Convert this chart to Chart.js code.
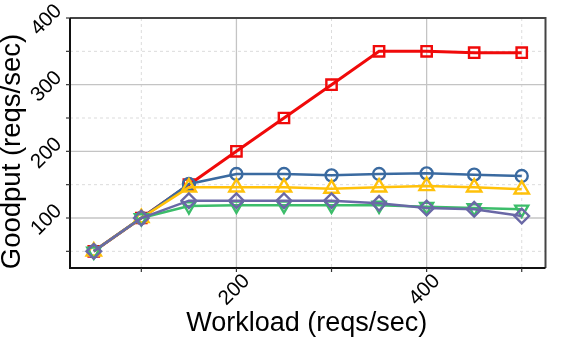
<!DOCTYPE html>
<html><head><meta charset="utf-8">
<script src="https://cdn.jsdelivr.net/npm/chart.js@4"></script>
<style>html,body{margin:0;padding:0;background:#fff}canvas{display:block}</style>
</head><body>
<canvas id="c" width="571" height="338"></canvas>
<script>
const workload = [50,100,150,200,250,300,350,400,450,500];
const seriesRed = [50,100,150,200,250,300,350,350,348,348];
const seriesBlue = [50,100,151,166,166,164,166,167,165,163];
const seriesYellow = [50,100,146,146,146,144,146,148,146,143];
const seriesGreen = [50,100,118,119,119,119,119,117,115,113];
const seriesPurple = [50,100,126,126,126,126,122,115,113,103];
const xTicks = [100,200,300,400,500];
const xLabels = [200,400];
const yTicks = [50,100,150,200,250,300,350,400];
const yLabels = [100,200,300,400];
const xTitle = 'Workload (reqs/sec)';
const yTitle = 'Goodput (reqs/sec)';

const FONT = '"Liberation Sans", Arial, sans-serif';
const pts = arr => workload.map((x,i)=>({x:x, y:arr[i]}));

function ds(data, color, style, radius, width, order, rot){
  return {data: pts(data), borderColor: color, backgroundColor: 'rgba(0,0,0,0)',
    pointStyle: style, pointRadius: radius, pointHoverRadius: radius,
    pointBorderWidth: 2.4, pointBorderColor: color, pointBackgroundColor: 'rgba(0,0,0,0)',
    pointRotation: rot||0, borderWidth: width, tension: 0, order: order, fill: false};
}

const framePlugin = {
  id: 'frame',
  beforeDatasetsDraw(chart){
    const {ctx, chartArea:a, scales:{x, y}} = chart;
    ctx.save();
    xTicks.forEach(v=>{
      const px = x.getPixelForValue(v);
      const major = xLabels.includes(v);
      ctx.beginPath();
      ctx.lineWidth = major ? 1.3 : 1;
      ctx.strokeStyle = major ? '#c4c4c4' : '#dcdcdc';
      ctx.setLineDash(major ? [] : [3,3]);
      ctx.moveTo(px, a.top); ctx.lineTo(px, a.bottom); ctx.stroke();
    });
    yTicks.forEach(v=>{
      const py = y.getPixelForValue(v);
      const major = yLabels.includes(v);
      ctx.beginPath();
      ctx.lineWidth = major ? 1.3 : 1;
      ctx.strokeStyle = major ? '#c4c4c4' : '#dcdcdc';
      ctx.setLineDash(major ? [] : [3,3]);
      ctx.moveTo(a.left, py); ctx.lineTo(a.right, py); ctx.stroke();
    });
    ctx.restore();
  },
  afterDatasetsDraw(chart){
    const {ctx, chartArea:a, scales:{x, y}} = chart;
    ctx.save();
    ctx.setLineDash([]);
    ctx.strokeStyle = '#444'; ctx.lineWidth = 2;
    ctx.beginPath(); ctx.moveTo(a.left, a.top); ctx.lineTo(a.right, a.top); ctx.lineTo(a.right, a.bottom); ctx.stroke();
    ctx.strokeStyle = '#111'; ctx.lineWidth = 2;
    ctx.beginPath(); ctx.moveTo(a.left, a.top); ctx.lineTo(a.left, a.bottom); ctx.lineTo(a.right, a.bottom); ctx.stroke();
    ctx.strokeStyle = '#333'; ctx.lineWidth = 1.2;
    xTicks.forEach(v=>{
      const px = x.getPixelForValue(v);
      ctx.beginPath(); ctx.moveTo(px, a.bottom); ctx.lineTo(px, a.bottom+4); ctx.stroke();
    });
    yTicks.forEach(v=>{
      const py = y.getPixelForValue(v);
      ctx.beginPath(); ctx.moveTo(a.left-4, py); ctx.lineTo(a.left, py); ctx.stroke();
    });
    ctx.fillStyle = '#000';
    ctx.font = '20.5px ' + FONT;
    ctx.textAlign = 'center'; ctx.textBaseline = 'middle';
    xLabels.forEach(v=>{
      const px = x.getPixelForValue(v);
      ctx.save(); ctx.translate(px-2, a.bottom+22); ctx.rotate(-Math.PI/4);
      ctx.fillText(String(v), 0, 0); ctx.restore();
    });
    yLabels.forEach(v=>{
      const py = y.getPixelForValue(v);
      ctx.save(); ctx.translate(a.left-23.5, py+2); ctx.rotate(-Math.PI/4);
      ctx.fillText(String(v), 0, 0); ctx.restore();
    });
    ctx.font = '27px ' + FONT;
    ctx.textAlign = 'center'; ctx.textBaseline = 'alphabetic';
    ctx.fillText(xTitle, (a.left+a.right)/2 - 1, 331);
    ctx.save(); ctx.translate(20, 151.5); ctx.rotate(-Math.PI/2);
    ctx.font = '27.5px ' + FONT;
    ctx.fillText(yTitle, 0, 0); ctx.restore();
    ctx.restore();
  }
};

new Chart(document.getElementById('c'), {
  type: 'line',
  data: { datasets: [
    ds(seriesRed, '#f00a0a', 'rect', 7.3, 3, 5),
    ds(seriesBlue, '#3a6aa0', 'circle', 6, 2.5, 4),
    ds(seriesYellow, '#ffc10a', 'triangle', 8.3, 2.5, 3),
    ds(seriesGreen, '#3cbd6a', 'triangle', 7.5, 2.5, 2, 180),
    ds(seriesPurple, '#6a68a6', 'rectRot', 7.3, 2.5, 1)
  ]},
  options: {
    responsive: false, animation: false, devicePixelRatio: 1,
    layout: { padding: { left: 0, right: 25.5, top: 18, bottom: 0 } },
    plugins: { legend: { display: false }, tooltip: { enabled: false } },
    scales: {
      x: { type: 'linear', min: 25, max: 525,
        grid: { display: false }, border: { display: false },
        ticks: { display: false },
        afterBuildTicks: s => { s.ticks = xTicks.map(v=>({value:v})); },
        afterFit: s => { s.height = 70; } },
      y: { type: 'linear', min: 25, max: 400,
        grid: { display: false }, border: { display: false },
        ticks: { display: false },
        afterBuildTicks: s => { s.ticks = yTicks.map(v=>({value:v})); },
        afterFit: s => { s.width = 70; } }
    }
  },
  plugins: [framePlugin]
});
</script>
</body></html>
